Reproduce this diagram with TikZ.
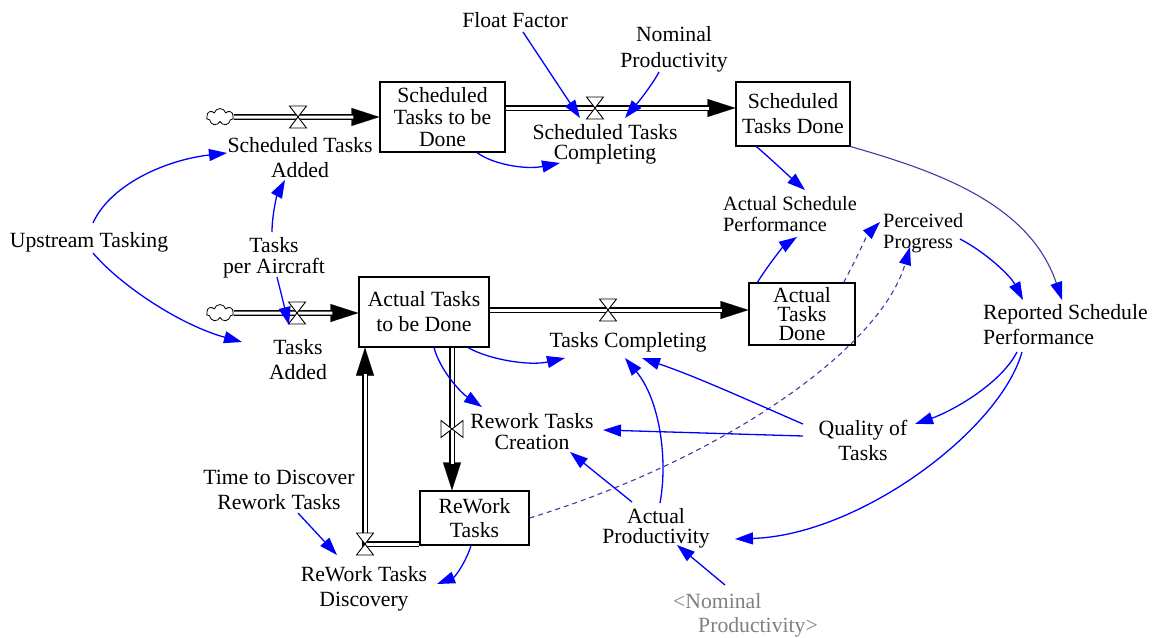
\documentclass[tikz,border=0pt]{standalone}
\usepackage{fontspec}
\setmainfont{Liberation Serif}
\usetikzlibrary{arrows.meta,shapes.symbols}
\definecolor{lnk}{RGB}{0,0,255}
\definecolor{dlnk}{RGB}{60,60,165}
\definecolor{shd}{RGB}{128,128,128}
\tikzset{
  stockbox/.style={draw, line width=1.2pt, inner sep=0pt, align=center, font=\fontsize{21.7}{#1}\selectfont},
  lbl/.style={inner sep=1.5pt, align=center, font=\fontsize{21.7}{#1}\selectfont},
  lbl/.default=25,
  lbll/.style={inner sep=0pt, align=left, anchor=west, font=\fontsize{21.7}{#1}\selectfont},
  lbll/.default=25,
  lbls/.style={inner sep=0pt, align=left, anchor=west, font=\fontsize{20.3}{21}\selectfont},
  cloudnode/.style={cloud, cloud puffs=7, aspect=1.6, minimum width=27pt, minimum height=17pt, inner sep=0pt, draw, line width=0.8pt},
  pipe/.style={draw=black, double=white, line width=1.3pt, double distance=3pt},
  pipetip/.style={draw=white, line width=0.2pt, -{Triangle[length=28pt,width=18pt,color=black]}},
  link/.style={draw=lnk, line width=1.3pt, -{Triangle[length=18pt,width=12pt,color=lnk]}},
  dlink/.style={draw=dlnk, line width=1.1pt, dash pattern=on 5pt off 4pt, -{Triangle[length=18pt,width=12pt,color=lnk]}},
  thinlink/.style={draw=dlnk, line width=1.1pt, -{Triangle[length=18pt,width=12pt,color=lnk]}},
  valvepic/.pic={\draw[fill=white, line width=0.9pt, line join=miter] (-8.5,-11) -- (8.5,-11) -- (-8.5,11) -- (8.5,11) -- cycle;}
}
\begin{document}
\begin{tikzpicture}[x=1pt,y=-1pt]
\useasboundingbox (0,0) rectangle (1153,637);

% ---------- stocks ----------
\node[stockbox=22, minimum width=125pt, minimum height=70pt] (sttbd) at (442.5,117) {Scheduled\\Tasks to be\\Done};
\node[stockbox=25, minimum width=114pt, minimum height=64pt] (std) at (793,114) {Scheduled\\Tasks Done};
\node[stockbox=25, minimum width=130pt, minimum height=70pt] (atbd) at (424,312) {Actual Tasks\\to be Done};
\node[stockbox=19, minimum width=106pt, minimum height=62pt] (atd) at (802,314) {Actual\\Tasks\\Done};
\node[stockbox=24, minimum width=109pt, minimum height=54pt] (rw) at (474.5,518) {ReWork\\Tasks};

% ---------- clouds and valve points ----------
\node[cloudnode] (c1) at (220,117) {};
\node[cloudnode] (c2) at (220,313) {};
\coordinate (v1) at (298,117);
\coordinate (v2) at (595,108);
\coordinate (v3) at (297,313);
\coordinate (v4) at (608,310);
\coordinate (v5) at (452,429);
\coordinate (v6) at (365,544);

% ---------- labels ----------
\node[lbl] (ff) at (515,20) {Float Factor};
\node[lbl=26] (np) at (674,49) {Nominal\\Productivity};
\node[lbl] (sta) at (300,158) {Scheduled Tasks\\Added};
\node[lbl=20] (stc) at (605,144) {Scheduled Tasks\\Completing};
\node[lbl] (ut) at (89,242) {Upstream Tasking};
\node[lbl=21] (tpa) at (274,258) {Tasks\\per Aircraft};
\node[lbl] (ta) at (298,360) {Tasks\\Added};
\node[lbls] (asp) at (723,214) {Actual Schedule\\Performance};
\node[lbls] (pp) at (883,233) {Perceived\\Progress};
\node[lbll] (rsp) at (983,325) {Reported Schedule\\Performance};
\node[lbl] (tc) at (628,342) {Tasks Completing};
\node[lbl=21] (rtc) at (532,432) {Rework Tasks\\Creation};
\node[lbl] (qt) at (863,440) {Quality of\\Tasks};
\node[lbl=20] (ap) at (656,528) {Actual\\Productivity};
\node[lbll=24, text=shd] (snp) at (673,615) {<Nominal\\\hspace*{25pt}Productivity>};
\node[lbl] (tdr) at (279,490) {Time to Discover\\Rework Tasks};
\node[lbl] (rtd) at (364,589) {ReWork Tasks\\Discovery};

% ---------- pipes ----------
\draw[pipetip] (c1.east) -- (sttbd.west |- c1);
\draw[pipe, shorten >=26pt] (c1.east) -- (sttbd.west |- c1);
\draw[pipetip] (sttbd.east |- v2) -- (std.west |- v2);
\draw[pipe, shorten >=26pt] (sttbd.east |- v2) -- (std.west |- v2);
\draw[pipetip] (c2.east) -- (atbd.west |- c2);
\draw[pipe, shorten >=26pt] (c2.east) -- (atbd.west |- c2);
\draw[pipetip] (atbd.east |- v4) -- (atd.west |- v4);
\draw[pipe, shorten >=26pt] (atbd.east |- v4) -- (atd.west |- v4);
\draw[pipetip] (v5 |- atbd.south) -- (v5 |- rw.north);
\draw[pipe, shorten >=26pt] (v5 |- atbd.south) -- (v5 |- rw.north);
\draw[pipetip] (v6) -- (v6 |- atbd.south);
\draw[pipe, shorten >=26pt, line join=miter] (rw.west |- v6) -- (v6) -- (v6 |- atbd.south);

\pic at (v1) {valvepic};
\pic at (v2) {valvepic};
\pic at (v3) {valvepic};
\pic at (v4) {valvepic};
\pic[rotate=90] at (v5) {valvepic};
\pic at (v6) {valvepic};

% ---------- links ----------
\draw[link] ([shift={(8,12)}]ff.center) -- ([shift={(-25,-26)}]stc.center);
\draw[link] ([shift={(-15,23)}]np.center) .. controls (652,85) and (640,100) .. ([shift={(20,-26)}]stc.center);
\draw[link] ([xshift=34.5pt]sttbd.south) .. controls (492,164) and (525,170) .. ([shift={(-45,19)}]stc.center);
\draw[link] ([shift={(4,-19)}]ut.center) .. controls (110,185) and (165,160) .. ([shift={(-73,-5)}]sta.center);
\draw[link] ([shift={(4,11)}]ut.center) .. controls (120,285) and (180,325) .. ([shift={(-56,-18)}]ta.center);
\draw[link] ([shift={(-2,-26)}]tpa.center) .. controls (272,215) and (277,195) .. ([shift={(-15,22)}]sta.center);
\draw[link] ([shift={(3,19)}]tpa.center) -- ([shift={(-8,12)}]v3);
\draw[link] ([xshift=21pt]std.south west) .. controls (772,160) and (790,177) .. ([shift={(82,-24)}]asp.west);
\draw[link] ([xshift=9pt]atd.north west) .. controls (770,262) and (785,245) .. ([shift={(74,23)}]asp.west);
\draw[dlink] ([xshift=-12pt]atd.north east) .. controls (855,262) and (867,235) .. ([shift={(-3,-11)}]pp.west);
\draw[dlink] (rw.east) .. controls (720,460) and (880,350) .. ([shift={(27,14)}]pp.west);
\draw[thinlink] (std.south east) .. controls (940,172) and (1030,205) .. ([shift={(79,-25)}]rsp.west);
\draw[link] ([shift={(77,6)}]pp.west) .. controls (985,252) and (1010,275) .. ([shift={(40,-25)}]rsp.west);
\draw[link] ([shift={(34,27)}]rsp.west) .. controls (1000,385) and (950,412) .. ([shift={(52,-16)}]qt.center);
\draw[link] ([shift={(39,27)}]rsp.west) .. controls (1000,430) and (860,535) .. ([shift={(79,11)}]ap.center);
\draw[link] ([shift={(-60,-16)}]qt.center) .. controls (752,402) and (700,378) .. ([shift={(14,16)}]tc.center);
\draw[link] ([shift={(-60,-4)}]qt.center) -- ([shift={(71,-2)}]rtc.center);
\draw[link] ([shift={(4,-25)}]ap.center) .. controls (668,460) and (660,400) .. ([shift={(-3,16)}]tc.center);
\draw[link] ([shift={(-24,-26)}]ap.center) -- ([shift={(38,20)}]rtc.center);
\draw[link] ([shift={(52,-30)}]snp.west) -- ([shift={(21,17)}]ap.center);
\draw[link] ([xshift=44pt]atbd.south) .. controls (490,360) and (530,366) .. ([shift={(-63,16)}]tc.center);
\draw[link] ([xshift=10pt]atbd.south) .. controls (440,370) and (460,392) .. ([shift={(-50,-25)}]rtc.center);
\draw[link] ([shift={(19,23)}]tdr.center) -- ([shift={(-27,-34)}]rtd.center);
\draw[link] ([xshift=-3.5pt]rw.south) .. controls (466,562) and (455,577) .. ([shift={(73,-5)}]rtd.center);
\end{tikzpicture}
\end{document}
